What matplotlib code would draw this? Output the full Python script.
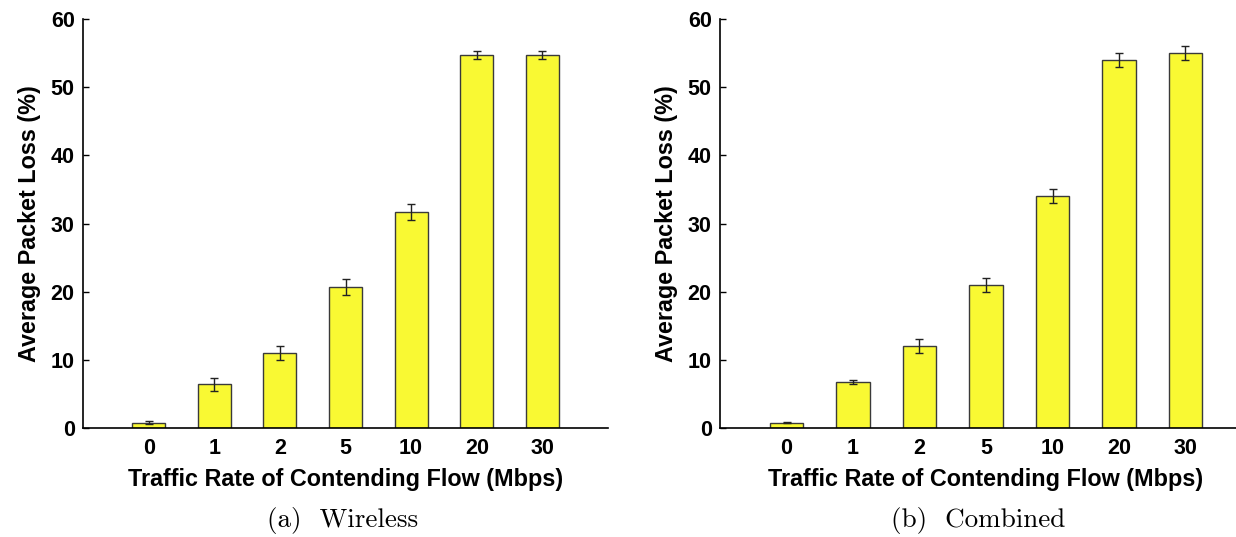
import numpy as np
import matplotlib
matplotlib.use("Agg")
import matplotlib.pyplot as plt

# Contending flow rates (Mbps) shown on the x axis
rates = ["0", "1", "2", "5", "10", "20", "30"]

# Average packet loss (%) and error bar half-widths, wireless case
wireless_loss = [0.8, 6.4, 11.0, 20.7, 31.7, 54.7, 54.7]
wireless_err = [0.25, 0.95, 1.0, 1.2, 1.15, 0.6, 0.6]

# Average packet loss (%) and error bar half-widths, combined case
combined_loss = [0.8, 6.7, 12.0, 21.0, 34.0, 54.0, 55.0]
combined_err = [0.1, 0.3, 1.0, 1.0, 1.0, 1.0, 1.0]

captions = ["(a)  Wireless", "(b)  Combined"]

plt.rcParams["font.family"] = ["Liberation Sans", "DejaVu Sans"]

fig = plt.figure(figsize=(12.36, 5.37), dpi=100)
W, H = 1236, 537


def draw_panel(x0, width, loss, err):
    ax = fig.add_axes([x0 / W, (H - 428) / H, width / W, (428 - 19) / H])
    pos = np.arange(1, len(rates) + 1)
    ax.bar(pos, loss, width=0.5, color="#f9f933", edgecolor="#3a3a3a",
           linewidth=1.0, zorder=2)
    ax.errorbar(pos, loss, yerr=err, fmt="none", ecolor="#222222",
                elinewidth=1.0, capsize=3, capthick=1.0, zorder=3)
    ax.set_xlim(0, 8)
    ax.set_ylim(0, 60)
    ax.set_xticks(pos)
    ax.set_xticklabels(rates)
    ax.set_yticks(np.arange(0, 61, 10))
    ax.spines["top"].set_visible(False)
    ax.spines["right"].set_visible(False)
    ax.spines["left"].set_linewidth(1.2)
    ax.spines["bottom"].set_linewidth(1.2)
    ax.tick_params(axis="y", direction="in", length=4, width=1.0,
                   labelsize=15.5, pad=6)
    ax.tick_params(axis="x", length=0, labelsize=15.5, pad=7)
    for lab in ax.get_xticklabels() + ax.get_yticklabels():
        lab.set_fontweight("bold")
    ax.set_ylabel("Average Packet Loss (%)", fontsize=16.8,
                  fontweight="bold", labelpad=7)
    ax.set_xlabel("Traffic Rate of Contending Flow (Mbps)", fontsize=16.8,
                  fontweight="bold", labelpad=7)
    return ax


draw_panel(83, 525, wireless_loss, wireless_err)
draw_panel(720, 532, combined_loss, combined_err)

fig.text(343 / W, 1 - 520 / H, captions[0], ha="center", va="center",
         fontsize=19.5, family="cmr10")
fig.text(978 / W, 1 - 520 / H, captions[1], ha="center", va="center",
         fontsize=19.5, family="cmr10")

fig.savefig("out.png", dpi=100)
